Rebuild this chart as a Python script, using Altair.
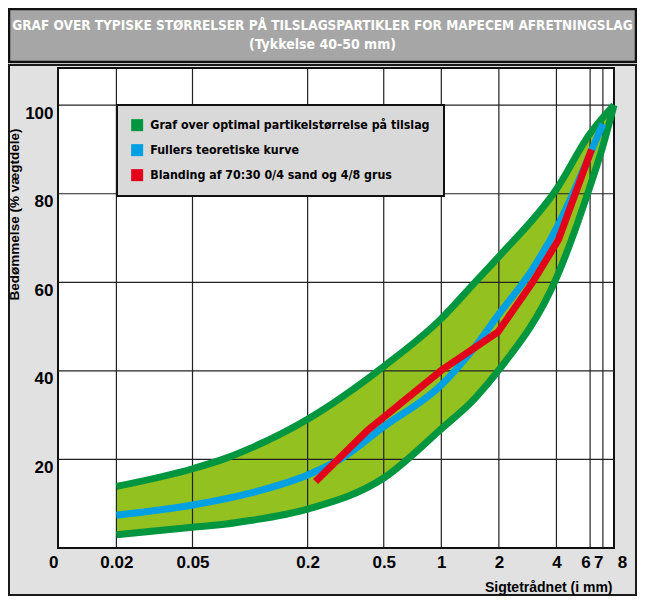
import altair as alt
import pandas as pd

# ---------------- data ----------------
title_line1 = "GRAF OVER TYPISKE STØRRELSER PÅ TILSLAGSPARTIKLER FOR MAPECEM AFRETNINGSLAG"
title_line2 = "(Tykkelse 40-50 mm)"
y_title = "Bedømmelse (% vægtdele)"
x_title = "Sigtetrådnet (i mm)"

series_names = [
    "Graf over optimal partikelstørrelse på tilslag",
    "Fullers teoretiske kurve",
    "Blanding af 70:30 0/4 sand og 4/8 grus",
]
series_colors = ["#009640", "#00a0e3", "#e2001a"]

# green band (optimal range): upper and lower limit
band_x = [0.02, 0.05, 0.075, 0.1, 0.2, 0.5, 1, 1.5, 2, 4, 6, 7, 8]
band_upper = [13.9, 17.9, 20.3, 22.5, 29.1, 41.0, 51.8, 60.0, 65.8, 81.0, 93.6, 97.2, 100]
band_lower = [3.0, 4.7, 5.4, 6.2, 8.8, 15.8, 26.9, 33.8, 40.2, 61.0, 81.7, 90.8, 100]

# Fuller's theoretical curve
fuller_x = [0.02, 0.05, 0.1, 0.2, 0.3, 0.5, 1, 1.43, 2, 3, 4, 6, 7.0]
fuller_y = [7.4, 9.7, 12.4, 16.5, 20.2, 27.4, 36.8, 44.3, 52.8, 63.0, 72.2, 89.0, 95.8]

# 70:30 blend
blend_x = [0.22, 0.41, 1, 1.98, 3.0, 4.1, 6.1]
blend_y = [15.0, 26.5, 40.1, 48.8, 60.0, 69.6, 90.0]

x_axis_values = [0.0099, 0.02, 0.05, 0.2, 0.5, 1, 2, 4, 6, 7, 8]
x_grid_values = [0.02, 0.05, 0.2, 0.5, 1, 2, 4, 6, 7]
y_axis_values = [20, 40, 60, 80, 100]

# ---------------- layout / style ----------------
W, H = 556, 480
PAD = {"left": 50, "top": 60, "right": 23, "bottom": 48}
LABEL_FONT = "Liberation Sans"
NARROW_FONT = "DejaVu Sans Condensed, Liberation Sans Narrow, Liberation Sans"

band_df = pd.DataFrame({"x": band_x, "upper": band_upper, "lower": band_lower})
lines_df = pd.concat([
    pd.DataFrame({"x": band_x, "y": band_upper, "series": series_names[0], "part": "upper"}),
    pd.DataFrame({"x": band_x, "y": band_lower, "series": series_names[0], "part": "lower"}),
])
fuller_df = pd.DataFrame({"x": fuller_x, "y": fuller_y, "series": series_names[1], "part": "fuller"})
blend_df = pd.DataFrame({"x": blend_x, "y": blend_y, "series": series_names[2], "part": "blend"})
legend_df = pd.DataFrame({"series": series_names})
xgrid_df = pd.DataFrame({"x": x_grid_values})
ygrid_df = pd.DataFrame({"y": y_axis_values})
one = pd.DataFrame({"a": [0]})

x_scale = alt.Scale(type="log", domain=[0.0099, 8], nice=False)
y_scale = alt.Scale(domain=[0, 108.4], nice=False, zero=False)

x_axis = alt.Axis(
    values=x_axis_values, zindex=1,
    labelExpr="datum.value < 0.015 ? '0' : format(datum.value, '~g')",
    grid=False, domain=False, ticks=False,
    labelFont=LABEL_FONT, labelFontSize=17, labelFontWeight="bold", labelColor="black",
    labelPadding=6, labelBaseline="top", labelOverlap=False, labelFlush=False, labelBound=False,
    labelAlign={"condition": {"test": "datum.value < 0.015 || (datum.value > 5 && datum.value < 7.5)",
                              "value": "right"}, "value": "center"},
    labelOffset={"condition": {"test": "datum.value > 7.5", "value": 8}, "value": 0},
    title=x_title, titleFont=LABEL_FONT, titleFontSize=14, titleFontWeight="bold", titleColor="black",
    titleAnchor="end", titleAlign="right", titleBaseline="middle", titleX=W - 2, titleY=39,
)
y_axis = alt.Axis(
    values=y_axis_values, zindex=1,
    grid=False, domain=False, ticks=False,
    labelFont=LABEL_FONT, labelFontSize=17, labelFontWeight="bold", labelColor="black",
    labelPadding=5, labelBaseline="top",
    title=y_title, titleFont=LABEL_FONT, titleFontSize=13.5, titleFontWeight="bold", titleColor="black",
    titleAngle=270, titleAlign="center", titleBaseline="middle", titleX=-44, titleY=146,
)

series_scale = alt.Scale(domain=series_names, range=series_colors)
series_legend = alt.Legend(
    title=None, orient="none", legendX=59, legendY=37,
    fillColor="#d9d9d9", strokeColor="#111111", padding=14, rowPadding=12,
    symbolType="square", symbolSize=144, symbolStrokeWidth=0, symbolOpacity=1,
    labelFont=NARROW_FONT, labelFontSize=12.3, labelFontWeight="bold", labelColor="black",
    labelOffset=7, labelLimit=320,
)
series_color = alt.Color("series:N", scale=series_scale, legend=series_legend)


def X(field="x"):
    return alt.X(f"{field}:Q", scale=x_scale, axis=x_axis)


def Y(field="y"):
    return alt.Y(f"{field}:Q", scale=y_scale, axis=y_axis)


# filled squares that only carry the legend symbols (drawn first, hidden under the backgrounds)
legend_layer = alt.Chart(legend_df).mark_square(filled=True).encode(color=series_color)

outer_bg = alt.Chart(one).mark_rect(fill="#e1e1e1", stroke="#1a1a1a", strokeWidth=2).encode(
    x=alt.value(-49), x2=alt.value(W + 22), y=alt.value(-3), y2=alt.value(H + 47))
title_bg = alt.Chart(one).mark_rect(fill="#a6a6a6", stroke="#111111", strokeWidth=2.5).encode(
    x=alt.value(-49), x2=alt.value(W + 22), y=alt.value(-59), y2=alt.value(-6))
title1 = alt.Chart(pd.DataFrame({"t": [title_line1]})).mark_text(
    font=NARROW_FONT, fontSize=13.5, fontWeight="bold", color="white", baseline="middle", align="center"
).encode(text="t:N", x=alt.value(264.5), y=alt.value(-42))
title2 = alt.Chart(pd.DataFrame({"t": [title_line2]})).mark_text(
    font=NARROW_FONT, fontSize=14, fontWeight="bold", color="white", baseline="middle", align="center"
).encode(text="t:N", x=alt.value(264.5), y=alt.value(-23))
plot_bg = alt.Chart(one).mark_rect(fill="white").encode(
    x=alt.value(0), x2=alt.value(W), y=alt.value(0), y2=alt.value(H))

band = alt.Chart(band_df).mark_area(color="#93c11f", interpolate="monotone").encode(
    x=X(), y=Y("lower"), y2="upper:Q")

vgrid = alt.Chart(xgrid_df).mark_rule(color="#222222", strokeWidth=1.2).encode(
    x=X(), y=alt.value(0), y2=alt.value(H))
hgrid = alt.Chart(ygrid_df).mark_rule(color="#222222", strokeWidth=1.2).encode(
    y=Y(), x=alt.value(0), x2=alt.value(W))
frame = alt.Chart(one).mark_rect(filled=False, stroke="#111111", strokeWidth=2).encode(
    x=alt.value(0), x2=alt.value(W), y=alt.value(0), y2=alt.value(H))

green_lines = alt.Chart(lines_df).mark_line(strokeWidth=7, interpolate="monotone", strokeCap="butt").encode(
    x=X(), y=Y(), color=series_color, detail="part:N")
fuller_line = alt.Chart(fuller_df).mark_line(strokeWidth=7, interpolate="monotone", strokeCap="butt").encode(
    x=X(), y=Y(), color=series_color)
blend_line = alt.Chart(blend_df).mark_line(strokeWidth=7, interpolate="linear", strokeCap="butt",
                                           strokeJoin="miter").encode(
    x=X(), y=Y(), color=series_color)

chart = alt.layer(
    legend_layer, outer_bg, title_bg, title1, title2, plot_bg, band, vgrid, hgrid, frame,
    green_lines, fuller_line, blend_line,
).properties(
    width=W, height=H,
    autosize=alt.AutoSizeParams(type="none"),
    padding=PAD,
).configure(background="white").configure_view(strokeWidth=0).configure_legend(strokeWidth=2)

chart.save("out.html", embed_options={"renderer": "svg", "actions": False})
